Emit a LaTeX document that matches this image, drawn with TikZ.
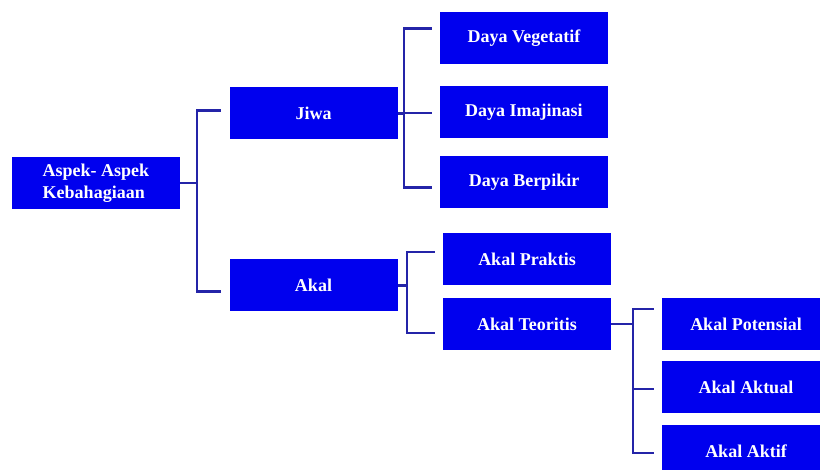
\documentclass[tikz,border=0pt]{standalone}
\usepackage{fontspec}
\setmainfont{Liberation Serif}
\usetikzlibrary{calc}
\definecolor{boxblue}{RGB}{0,0,238}
\definecolor{linkblue}{RGB}{36,36,168}
\tikzset{
  aspect/.style={fill=boxblue,text=white,minimum width=168pt,minimum height=52pt,
    inner sep=0pt,font=\fontsize{18}{22}\selectfont\bfseries},
  link/.style={draw=linkblue,line width=2.2pt}
}
\begin{document}
\begin{tikzpicture}[x=1pt,y=-1pt]
                \useasboundingbox (0,0) rectangle (820,470);
                \clip (0,0) rectangle (820,470);
                \node[aspect,align=left] (root) at (96,183) {Aspek- Aspek\\Kebahagiaan};
                \node[aspect] (jiwa) at (313.5,113.5) {Jiwa};
                \node[aspect] (akal) at (313.5,285.5) {Akal};
                \node[aspect] (veg) at (524,38.5) {Daya Vegetatif};
                \node[aspect] (ima) at (524,112) {Daya Imajinasi};
                \node[aspect] (ber) at (524,182.5) {Daya Berpikir};
                \node[aspect] (prak) at (527,259) {Akal Praktis};
                \node[aspect] (teo) at (527,324) {Akal Teoritis};
                \node[aspect] (pot) at (746,324) {Akal Potensial};
                \node[aspect] (akt) at (746,387) {Akal Aktual};
                \node[aspect] (aktif) at (746,451) {Akal Aktif};

                \foreach \from/\to/\len/\dy in {root/jiwa/17/-3,root/akal/17/6,jiwa/veg/6/-10,jiwa/ima/6/1,jiwa/ber/6/5,akal/prak/9/-7,akal/teo/9/9,teo/pot/22/-15,teo/akt/22/2,teo/aktif/22/2}
                  \draw[link] (\from.east) -- ++(\len,0) |- ($(\to.west)+(-8,\dy)$);
            \end{tikzpicture}
\end{document}
